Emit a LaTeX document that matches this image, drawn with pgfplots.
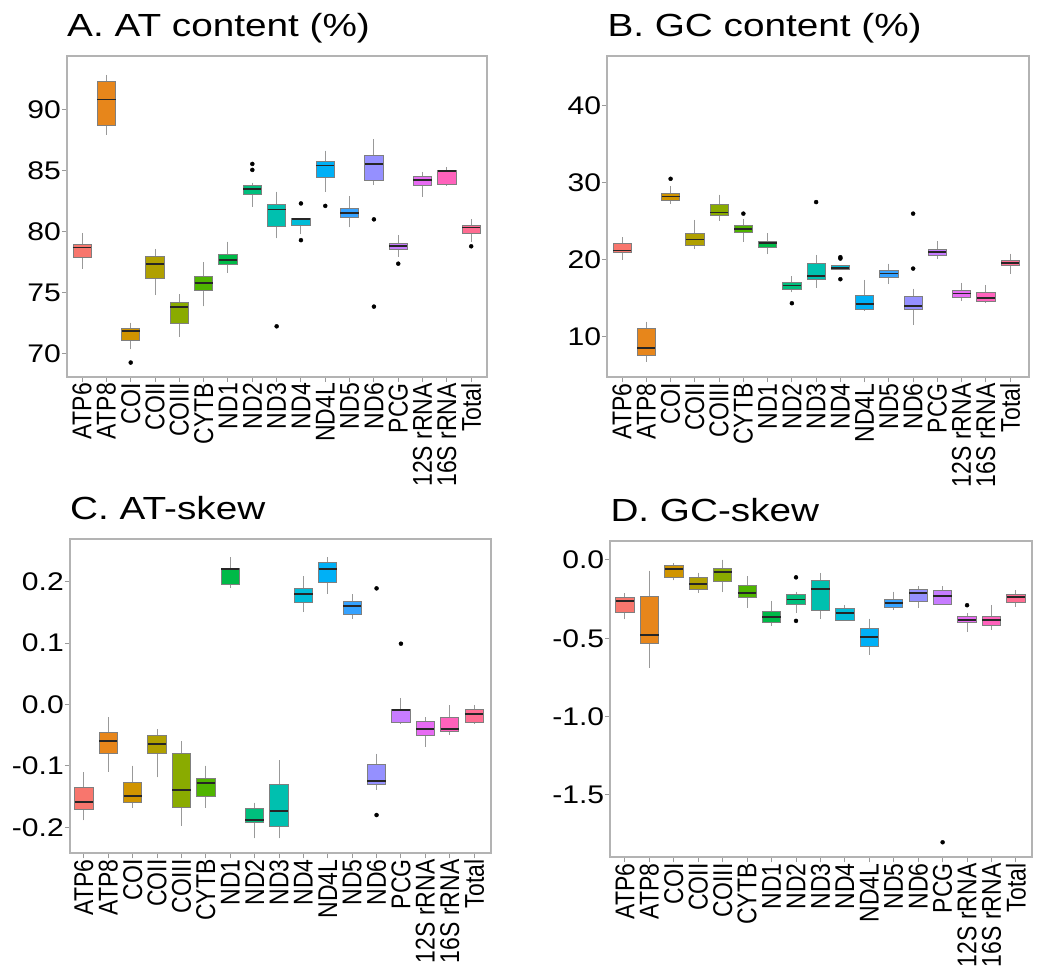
\documentclass[border=0pt]{standalone}
\usepackage{pgfplots}
\pgfplotsset{compat=1.18}
\usepgfplotslibrary{statistics}
\usepackage{graphicx}
\usepackage{fontspec}
\setmainfont{Liberation Sans}

\definecolor{c0}{HTML}{F8766D}
\definecolor{c1}{HTML}{E7861B}
\definecolor{c2}{HTML}{D09400}
\definecolor{c3}{HTML}{B0A000}
\definecolor{c4}{HTML}{8AAB00}
\definecolor{c5}{HTML}{4FB400}
\definecolor{c6}{HTML}{00BA48}
\definecolor{c7}{HTML}{00BF7D}
\definecolor{c8}{HTML}{00C0AF}
\definecolor{c9}{HTML}{00BCD8}
\definecolor{c10}{HTML}{00B0F6}
\definecolor{c11}{HTML}{35A2FF}
\definecolor{c12}{HTML}{9590FF}
\definecolor{c13}{HTML}{C77CFF}
\definecolor{c14}{HTML}{E76BF3}
\definecolor{c15}{HTML}{FF62BC}
\definecolor{c16}{HTML}{FF6C91}
\definecolor{framegray}{HTML}{B3B3B3}
\definecolor{boxgray}{HTML}{7F7F7F}
\definecolor{whgray}{HTML}{999999}

\newcommand{\xs}[1]{\scalebox{1}[1.18]{#1}}
\newcommand{\ys}[1]{\scalebox{1.18}[1]{#1}}
\newcommand{\ts}[1]{\scalebox{1.21}[1]{#1}}

\newcommand{\bx}[7]{\addplot[boxplot prepared={draw direction=y,draw position=#1,box extend=0.75,whisker extend=0,lower whisker=#3,lower quartile=#4,median=#5,upper quartile=#6,upper whisker=#7}, fill=c#2, draw=boxgray, line width=0.9pt] coordinates {};}

\pgfplotsset{
  panel/.style={
    scale only axis,
    axis line style={framegray, line width=1.8pt},
    xtick={0,...,16},
    xticklabels={\xs{ATP6},\xs{ATP8},\xs{COI},\xs{COII},\xs{COIII},\xs{CYTB},\xs{ND1},\xs{ND2},\xs{ND3},\xs{ND4},\xs{ND4L},\xs{ND5},\xs{ND6},\xs{PCG},\xs{12S rRNA},\xs{16S rRNA},\xs{Total}},
    x tick label style={rotate=90, anchor=east, font=\fontsize{23}{23}\selectfont, inner sep=1pt},
    y tick label style={font=\fontsize{25.5}{26}\selectfont, inner sep=1pt},
    tick style={whgray, line width=1pt},
    major tick length=5pt,
    tick align=outside,
    tick pos=left,
    title style={at={(0,1)}, anchor=base west, yshift=13pt, font=\fontsize{32}{32}\selectfont, inner sep=0pt},
    boxplot/every median/.style={draw=black!85, line width=1.8pt},
    boxplot/every whisker/.style={draw=whgray, line width=1pt},
  },
  outl/.style={only marks, mark=*, mark size=2pt, black, mark options={draw=black, fill=black}},
}

\begin{document}
\begin{tikzpicture}

% ---------------- A ----------------
\begin{axis}[panel, at={(67pt,591pt)}, anchor=south west, width=420pt, height=321pt,
  xmin=-0.62, xmax=16.65, ymin=68.12, ymax=94.35,
  ytick={70,75,80,85,90}, yticklabels={\ys{70},\ys{75},\ys{80},\ys{85},\ys{90}},
  title={\ts{A. AT content (\%)}}]
\bx{0}{0}{76.95}{77.9}{78.7}{78.97}{79.9}
\bx{1}{1}{87.9}{88.66}{90.8}{92.3}{92.8}
\bx{2}{2}{70.38}{71.14}{71.9}{72.1}{72.56}
\bx{3}{3}{74.8}{76.2}{77.33}{77.98}{78.58}
\bx{4}{4}{71.4}{72.5}{73.84}{74.2}{74.9}
\bx{5}{5}{73.9}{75.18}{75.83}{76.3}{77.5}
\bx{6}{6}{76.65}{77.33}{77.7}{78.15}{79.18}
\bx{7}{7}{82.04}{83.05}{83.49}{83.79}{84.0}
\bx{8}{8}{79.45}{80.44}{81.8}{82.23}{83.27}
\bx{9}{9}{79.8}{80.49}{81.0}{81.09}{81.1}
\bx{10}{10}{83.24}{84.39}{85.4}{85.7}{86.62}
\bx{11}{11}{80.35}{81.12}{81.53}{81.88}{82.9}
\bx{12}{12}{83.79}{84.17}{85.5}{86.2}{87.55}
\bx{13}{13}{77.96}{78.58}{78.8}{79.02}{79.73}
\bx{14}{14}{82.86}{83.79}{84.2}{84.5}{84.9}
\bx{15}{15}{83.79}{83.84}{84.97}{85.0}{85.29}
\bx{16}{16}{79.18}{79.84}{80.33}{80.49}{81.0}
\addplot[outl] coordinates {(2,69.3) (7,85.53) (7,85.04) (8,72.26) (9,82.3) (9,79.3) (10,82.1) (12,81.0) (12,73.87) (13,77.38) (16,78.8)};
\end{axis}

% ---------------- B ----------------
\begin{axis}[panel, at={(607.3pt,590.7pt)}, anchor=south west, width=422pt, height=321.6pt,
  xmin=-0.61, xmax=16.79, ymin=4.76, ymax=46.5,
  ytick={10,20,30,40}, yticklabels={\ys{10},\ys{20},\ys{30},\ys{40}},
  title={\ts{B. GC content (\%)}}]
\bx{0}{0}{20.0}{20.9}{21.21}{22.08}{22.94}
\bx{1}{1}{6.8}{7.62}{8.53}{11.04}{12.0}
\bx{2}{2}{27.27}{27.75}{28.23}{28.66}{29.6}
\bx{3}{3}{21.4}{21.86}{22.64}{23.38}{25.19}
\bx{4}{4}{25.1}{25.76}{26.15}{27.23}{28.48}
\bx{5}{5}{22.34}{23.55}{24.03}{24.42}{25.24}
\bx{6}{6}{20.74}{21.56}{22.2}{22.38}{23.46}
\bx{7}{7}{15.8}{16.1}{16.67}{17.06}{17.88}
\bx{8}{8}{16.36}{17.49}{17.88}{19.52}{20.65}
\bx{9}{9}{18.7}{18.79}{18.96}{19.22}{19.3}
\bx{10}{10}{13.42}{13.6}{14.29}{15.37}{17.4}
\bx{11}{11}{16.84}{17.75}{18.23}{18.66}{19.52}
\bx{12}{12}{11.56}{13.6}{14.03}{15.28}{16.28}
\bx{13}{13}{20.09}{20.61}{21.04}{21.34}{22.42}
\bx{14}{14}{14.63}{15.1}{15.63}{16.06}{17.06}
\bx{15}{15}{14.55}{14.56}{15.0}{15.8}{16.75}
\bx{16}{16}{18.18}{19.22}{19.56}{19.96}{20.82}
\addplot[outl] coordinates {(2,30.52) (5,26.0) (7,14.37) (8,27.5) (9,20.35) (9,20.17) (9,17.49) (12,18.87) (12,26.0)};
\end{axis}

% ---------------- C ----------------
\begin{axis}[panel, at={(70pt,114.7pt)}, anchor=south west, width=420.7pt, height=314.3pt,
  xmin=-0.57, xmax=16.68, ymin=-0.2423, ymax=0.2695,
  ytick={-0.2,-0.1,0,0.1,0.2}, yticklabels={\ys{-0.2},\ys{-0.1},\ys{0.0},\ys{0.1},\ys{0.2}},
  title={\ts{C. AT-skew}}]
\bx{0}{0}{-0.1886}{-0.1712}{-0.1587}{-0.1349}{-0.1104}
\bx{1}{1}{-0.1094}{-0.0795}{-0.0589}{-0.0448}{-0.0204}
\bx{2}{2}{-0.1685}{-0.1598}{-0.1484}{-0.1273}{-0.0996}
\bx{3}{3}{-0.1186}{-0.0795}{-0.0643}{-0.0502}{-0.0404}
\bx{4}{4}{-0.1978}{-0.1674}{-0.1392}{-0.0795}{-0.06}
\bx{5}{5}{-0.1685}{-0.1495}{-0.1284}{-0.1202}{-0.0996}
\bx{6}{6}{0.1897}{0.1962}{0.2200}{0.2212}{0.2396}
\bx{7}{7}{-0.2179}{-0.1913}{-0.1886}{-0.1696}{-0.1598}
\bx{8}{8}{-0.2179}{-0.1989}{-0.1739}{-0.1294}{-0.0904}
\bx{9}{9}{0.1506}{0.1663}{0.1799}{0.1891}{0.2092}
\bx{10}{10}{0.1805}{0.1995}{0.2206}{0.231}{0.2396}
\bx{11}{11}{0.1398}{0.1468}{0.1604}{0.1685}{0.1794}
\bx{12}{12}{-0.1392}{-0.1294}{-0.1246}{-0.0974}{-0.08}
\bx{13}{13}{-0.0296}{-0.0295}{-0.009}{-0.0079}{0.0106}
\bx{14}{14}{-0.0692}{-0.0502}{-0.0393}{-0.028}{-0.0204}
\bx{15}{15}{-0.0497}{-0.0431}{-0.0399}{-0.0209}{-0.0011}
\bx{16}{16}{-0.0301}{-0.0300}{-0.0149}{-0.0079}{-0.0011}
\addplot[outl] coordinates {(12,0.1891) (12,-0.18) (13,0.099)};
\end{axis}

% ---------------- D ----------------
\begin{axis}[panel, at={(610.3pt,110.7pt)}, anchor=south west, width=422pt, height=316.3pt,
  xmin=-0.6, xmax=16.67, ymin=-1.898, ymax=0.121,
  ytick={-1.5,-1,-0.5,0}, yticklabels={\ys{-1.5},\ys{-1.0},\ys{-0.5},\ys{0.0}},
  title={\ts{D. GC-skew}}]
\bx{0}{0}{-0.379}{-0.336}{-0.262}{-0.238}{-0.213}
\bx{1}{1}{-0.689}{-0.53}{-0.481}{-0.232}{-0.068}
\bx{2}{2}{-0.13}{-0.111}{-0.06}{-0.034}{-0.021}
\bx{3}{3}{-0.209}{-0.189}{-0.153}{-0.109}{-0.081}
\bx{4}{4}{-0.206}{-0.136}{-0.079}{-0.053}{0.002}
\bx{5}{5}{-0.306}{-0.238}{-0.209}{-0.162}{-0.104}
\bx{6}{6}{-0.419}{-0.402}{-0.362}{-0.328}{-0.262}
\bx{7}{7}{-0.336}{-0.281}{-0.253}{-0.223}{-0.202}
\bx{8}{8}{-0.377}{-0.321}{-0.187}{-0.128}{-0.083}
\bx{9}{9}{-0.386}{-0.385}{-0.338}{-0.311}{-0.289}
\bx{10}{10}{-0.606}{-0.555}{-0.494}{-0.44}{-0.374}
\bx{11}{11}{-0.319}{-0.302}{-0.277}{-0.251}{-0.202}
\bx{12}{12}{-0.306}{-0.262}{-0.211}{-0.189}{-0.168}
\bx{13}{13}{-0.282}{-0.281}{-0.232}{-0.196}{-0.168}
\bx{14}{14}{-0.457}{-0.402}{-0.381}{-0.36}{-0.34}
\bx{15}{15}{-0.445}{-0.419}{-0.383}{-0.36}{-0.287}
\bx{16}{16}{-0.3}{-0.27}{-0.234}{-0.219}{-0.194}
\addplot[outl] coordinates {(7,-0.111) (7,-0.389) (13,-1.802) (14,-0.289)};
\end{axis}

\pgfresetboundingbox
\path[use as bounding box] (0,0) rectangle (1042pt,968pt);
\end{tikzpicture}
\end{document}
